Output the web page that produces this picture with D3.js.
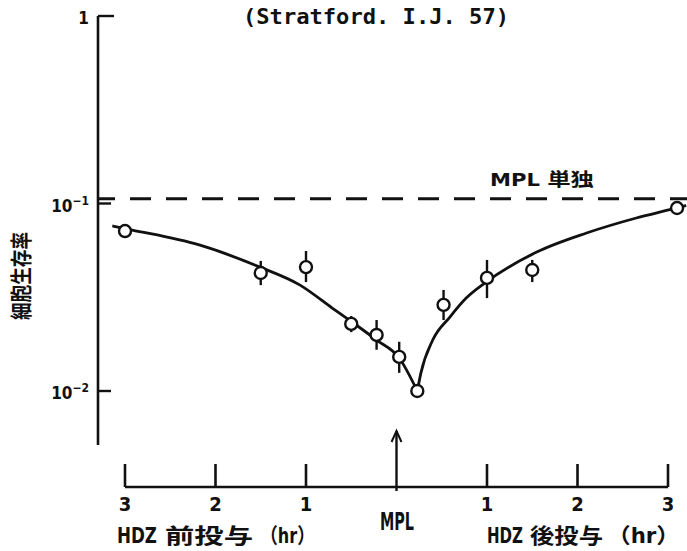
<!DOCTYPE html>
<html>
<head>
<meta charset="utf-8">
<script src="https://cdn.jsdelivr.net/npm/d3@7"></script>
<style>
  html, body { margin: 0; padding: 0; background: #fff; }
  svg { display: block; }
  text { font-family: "DejaVu Sans Condensed", "Noto Sans CJK JP", sans-serif; font-weight: bold; fill: #111; }
</style>
</head>
<body>
<svg id="chart" width="687" height="551"></svg>
<script>
// measured points (hours relative to MPL, survival fraction)
const ptT   = [-3, -1.5, -1, -0.5, -0.22, 0.03, 0.23, 0.52, 1, 1.5, 3.1];
const ptV   = [0.0713, 0.0426, 0.0458, 0.0228, 0.0199, 0.0152, 0.0100, 0.0288, 0.0401, 0.0442, 0.0946];
const errHi = [null, 0.0494, 0.0558, 0.0251, 0.0239, 0.0183, null, 0.0346, 0.050, 0.050, null];
const errLo = [null, 0.0367, 0.0381, 0.0206, 0.0166, 0.0125, null, 0.0239, 0.0313, 0.0381, null];

// fitted curves, drawn by hand in the original
const leftT  = [-3.14, -2.92, -2.18, -1.51, -1.07, -0.71, -0.49, -0.22, 0.03, 0.23];
const leftV  = [0.0759, 0.0722, 0.0601, 0.0458, 0.0368, 0.0277, 0.0233, 0.0187, 0.0150, 0.0100];
const rightT = [0.23, 0.27, 0.40, 0.59, 0.77, 0.99, 1.55, 2.10, 2.65, 3.05, 3.20];
const rightV = [0.0100, 0.0125, 0.0187, 0.0248, 0.0313, 0.0381, 0.0551, 0.0696, 0.0837, 0.0935, 0.0976];

const mplAlone = 0.106;

const xTicks = [-3, -2, -1, 0, 1, 2, 3];
const xTickLabels = ["3", "2", "1", "", "1", "2", "3"];
const yTicks = [1, 0.1, 0.01];
const yTickLabels = [["1", ""], ["10", "−1"], ["10", "−2"]];

const svg = d3.select("#chart");
const x = d3.scaleLinear().domain([-3, 3]).range([125, 668]);
const y = d3.scaleLog().domain([0.01, 1]).range([391, 16]);

const axisX = 98, baseY = 487;
const ink = "#111";

// y axis
svg.append("line").attr("x1", axisX).attr("x2", axisX).attr("y1", y(1)).attr("y2", 445)
  .attr("stroke", ink).attr("stroke-width", 2.6);
svg.selectAll(".ytick").data(yTicks).join("line")
  .attr("x1", axisX).attr("x2", d => d === 1 ? 114 : 111)
  .attr("y1", d => y(d)).attr("y2", d => y(d))
  .attr("stroke", ink).attr("stroke-width", 2.4);

const yl = svg.selectAll(".ylab").data(yTicks).join("text")
  .attr("x", 89).attr("y", d => y(d) + 8)
  .attr("text-anchor", "end").style("font-size", "17px");
yl.append("tspan").text((d, i) => yTickLabels[i][0]);
yl.append("tspan").attr("dy", -7).style("font-size", "12px").text((d, i) => yTickLabels[i][1]);

svg.append("text")
  .attr("transform", "translate(29,276) rotate(-90)")
  .attr("text-anchor", "middle").style("font-size", "22px")
  .attr("textLength", 88).attr("lengthAdjust", "spacingAndGlyphs")
  .text("細胞生存率");

// title
svg.append("text").attr("x", 243).attr("y", 24)
  .attr("textLength", 266).attr("lengthAdjust", "spacingAndGlyphs")
  .style("font-family", "'DejaVu Sans Mono', monospace").style("font-size", "22px")
  .text("(Stratford. I.J. 57)");

// MPL alone level
svg.append("line").attr("x1", axisX + 1).attr("x2", 687)
  .attr("y1", y(mplAlone)).attr("y2", y(mplAlone))
  .attr("stroke", ink).attr("stroke-width", 3)
  .attr("stroke-dasharray", "21,15").attr("stroke-dashoffset", 5);
svg.append("text").attr("x", 490).attr("y", 186)
  .attr("textLength", 104).attr("lengthAdjust", "spacingAndGlyphs")
  .style("font-size", "18px").text("MPL 単独");

// curves
const line = d3.line().x(d => x(d[0])).y(d => y(d[1])).curve(d3.curveMonotoneX);
[[leftT, leftV], [rightT, rightV]].forEach(([ts, vs]) => {
  svg.append("path").attr("d", line(ts.map((t, i) => [t, vs[i]])))
    .attr("fill", "none").attr("stroke", ink).attr("stroke-width", 2.8);
});

// points with error bars
const pts = ptT.map((t, i) => ({ t, v: ptV[i], hi: errHi[i], lo: errLo[i] }));
svg.selectAll(".err").data(pts.filter(d => d.hi != null)).join("line")
  .attr("x1", d => x(d.t)).attr("x2", d => x(d.t))
  .attr("y1", d => y(d.hi)).attr("y2", d => y(d.lo))
  .attr("stroke", ink).attr("stroke-width", 2.4);
svg.selectAll(".pt").data(pts).join("circle")
  .attr("cx", d => x(d.t)).attr("cy", d => y(d.v)).attr("r", 6)
  .attr("fill", "#fff").attr("stroke", ink).attr("stroke-width", 2.4);

// x axis
svg.append("line").attr("x1", x(-3)).attr("x2", x(3)).attr("y1", baseY).attr("y2", baseY)
  .attr("stroke", ink).attr("stroke-width", 2.6);
svg.selectAll(".xtick").data(xTicks.filter(d => d !== 0)).join("line")
  .attr("x1", d => x(d)).attr("x2", d => x(d)).attr("y1", 464).attr("y2", baseY)
  .attr("stroke", ink).attr("stroke-width", 2.6);
svg.selectAll(".xlab").data(xTicks).join("text")
  .attr("x", d => x(d)).attr("y", 511)
  .attr("text-anchor", "middle").style("font-size", "20px")
  .text((d, i) => xTickLabels[i]);

// MPL arrow
const ax = x(0);
svg.append("line").attr("x1", ax).attr("x2", ax).attr("y1", 431).attr("y2", 491)
  .attr("stroke", ink).attr("stroke-width", 2.4);
svg.append("path").attr("d", `M${ax - 5},${442} L${ax},${431} L${ax + 5},${442}`)
  .attr("fill", "none").attr("stroke", ink).attr("stroke-width", 2);
svg.append("text").attr("x", 380).attr("y", 530)
  .attr("textLength", 34).attr("lengthAdjust", "spacingAndGlyphs")
  .style("font-size", "24px").text("MPL");

// bottom captions, each piece placed where it sits in the original
const captions = [
  { x: 117, w: 40, s: "HDZ" }, { x: 165, w: 88, s: "前投与" }, { x: 260, w: 55, s: "（hr）" },
  { x: 487, w: 36, s: "HDZ" }, { x: 530, w: 73, s: "後投与" }, { x: 607, w: 73, s: "（hr）" }
];
svg.selectAll(".cap").data(captions).join("text")
  .attr("x", d => d.x).attr("y", 543)
  .attr("textLength", d => d.w).attr("lengthAdjust", "spacingAndGlyphs")
  .style("font-size", "21px").text(d => d.s);
</script>
</body>
</html>
